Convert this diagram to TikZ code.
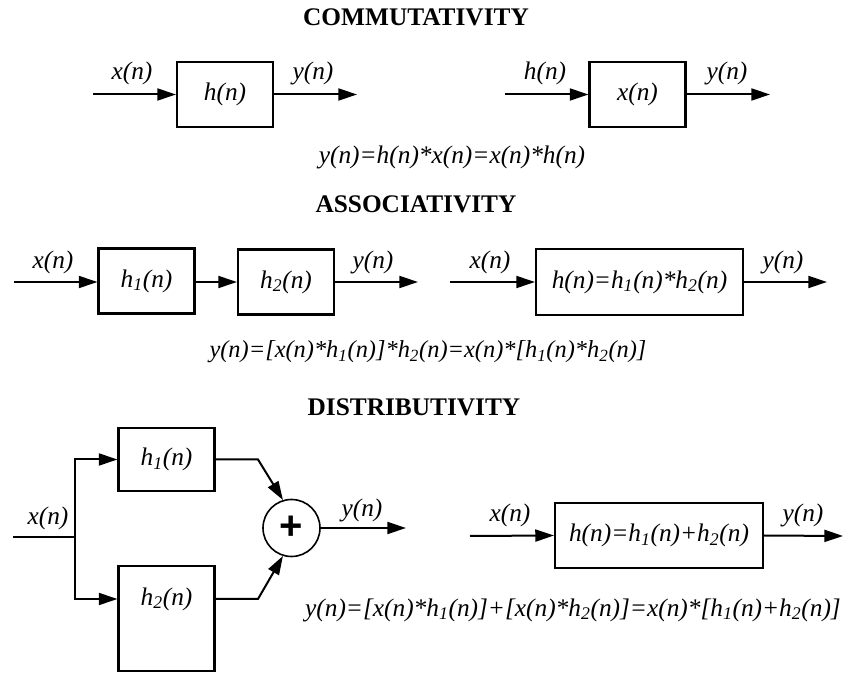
\documentclass[tikz,border=0pt]{standalone}
\usepackage{fontspec}
\setmainfont{Liberation Serif}
\newfontfamily\plusfont{Liberation Sans}
\usetikzlibrary{arrows.meta}
\begin{document}
\begin{tikzpicture}[x=0.75pt, y=-0.75pt, >={Triangle[length=14pt,width=9pt]}, line width=1.5pt,
  lbl/.style={font=\fontsize{19}{23}\selectfont\itshape, inner sep=0pt},
  ttl/.style={font=\fontsize{19}{23}\selectfont\bfseries, inner sep=0pt},
  blk/.style={draw, line width=1.6pt, minimum width=72pt, minimum height=48.75pt, inner sep=0pt,
    font=\fontsize{19}{23}\selectfont\itshape},
  sumc/.style={draw, circle, line width=1.2pt, minimum size=42.75pt, inner sep=0pt,
    font=\fontsize{30}{32}\selectfont\plusfont\bfseries}]
\useasboundingbox (0,0) rectangle (844,673);
% Titulos
\node[ttl] (t1) at (416,17.5) {COMMUTATIVITY};
\node[ttl] (t2) at (416,204) {ASSOCIATIVITY};
\node[ttl] (t3) at (414,407.5) {DISTRIBUTIVITY};
% Comutatividade
\node[blk] (ca) at (225,94.5) {h(n)};
\coordinate (ca_in) at (93,94.5);
\coordinate (ca_out) at (357,94.5);
\draw[->] (ca_in) -- (ca.west);
\draw[->] (ca.east) -- (ca_out);
\node[lbl] (ca_x) at (132,73) {x(n)};
\node[lbl] (ca_y) at (313,73) {y(n)};
\node[blk] (cb) at (637.5,94.5) {x(n)};
\coordinate (cb_in) at (505,94.5);
\coordinate (cb_out) at (770,94.5);
\draw[->] (cb_in) -- (cb.west);
\draw[->] (cb.east) -- (cb_out);
\node[lbl] (cb_h) at (545,73) {h(n)};
\node[lbl] (cb_y) at (727,73) {y(n)};
\node[lbl] (eq1) at (452,157) {y(n)=h(n)*x(n)=x(n)*h(n)};
% Associatividade
\node[blk] (a1) at (146.5,281) {h\textsubscript{1}(n)};
\node[blk] (a2) at (286,282) {h\textsubscript{2}(n)};
\coordinate (a_in) at (14,282);
\coordinate (a_out) at (418,282);
\draw[->] (a_in) -- (a1.west |- a_in);
\draw[->] (a1.east |- a_in) -- (a2.west);
\draw[->] (a2.east) -- (a_out);
\node[lbl] (a_x) at (53,262) {x(n)};
\node[lbl] (a_y) at (373,262) {y(n)};
\node[blk, minimum width=155.25pt, minimum height=49.5pt] (ab) at (639.5,282) {h(n)=h\textsubscript{1}(n)*h\textsubscript{2}(n)};
\coordinate (ab_in) at (450,282);
\coordinate (ab_out) at (827,282);
\draw[->] (ab_in) -- (ab.west);
\draw[->] (ab.east) -- (ab_out);
\node[lbl] (ab_x) at (490,262) {x(n)};
\node[lbl] (ab_y) at (783,262) {y(n)};
\node[lbl, font=\fontsize{18.3}{22}\selectfont\itshape] (eq2) at (428,352) {y(n)=[x(n)*h\textsubscript{1}(n)]*h\textsubscript{2}(n)=x(n)*[h\textsubscript{1}(n)*h\textsubscript{2}(n)]};
% Distributividade
\node[blk, minimum height=47.25pt] (d1) at (166.5,459.5) {h\textsubscript{1}(n)};
\node[blk, minimum height=78.75pt] (d2) at (166.5,618.5) {};
\node[lbl] (d2t) at (166.5,599) {h\textsubscript{2}(n)};
\node[sumc] (sum) at (291.5,528) {+};
\coordinate (d_in) at (13,537);
\coordinate (j) at (75,537);
\coordinate (k1) at (258,459.5);
\coordinate (k2) at (258,599);
\coordinate (d_out) at (406,528);
\draw (d_in) -- (j);
\draw[->] (j) |- (d1.west);
\draw[->] (j) |- (d2t -| d2.west);
\draw[->] (d1.east) -- (k1) -- (sum.107);
\draw[->] (d2.east |- d2t) -- (k2) -- (sum.253);
\draw[->] (sum.east) -- (d_out);
\node[lbl] (d_x) at (48,518) {x(n)};
\node[lbl] (d_y) at (362,510) {y(n)};
\node[blk, minimum width=156pt] (db) at (659,535.5) {h(n)=h\textsubscript{1}(n)+h\textsubscript{2}(n)};
\coordinate (db_in) at (470,536);
\coordinate (db_out) at (843,536);
\draw[->] (db_in) -- (db.west);
\draw[->] (db.east) -- (db_out);
\node[lbl] (db_x) at (510,515) {x(n)};
\node[lbl] (db_y) at (803,515) {y(n)};
\node[lbl] (eq3) at (573,610) {y(n)=[x(n)*h\textsubscript{1}(n)]+[x(n)*h\textsubscript{2}(n)]=x(n)*[h\textsubscript{1}(n)+h\textsubscript{2}(n)]};
\end{tikzpicture}
\end{document}
